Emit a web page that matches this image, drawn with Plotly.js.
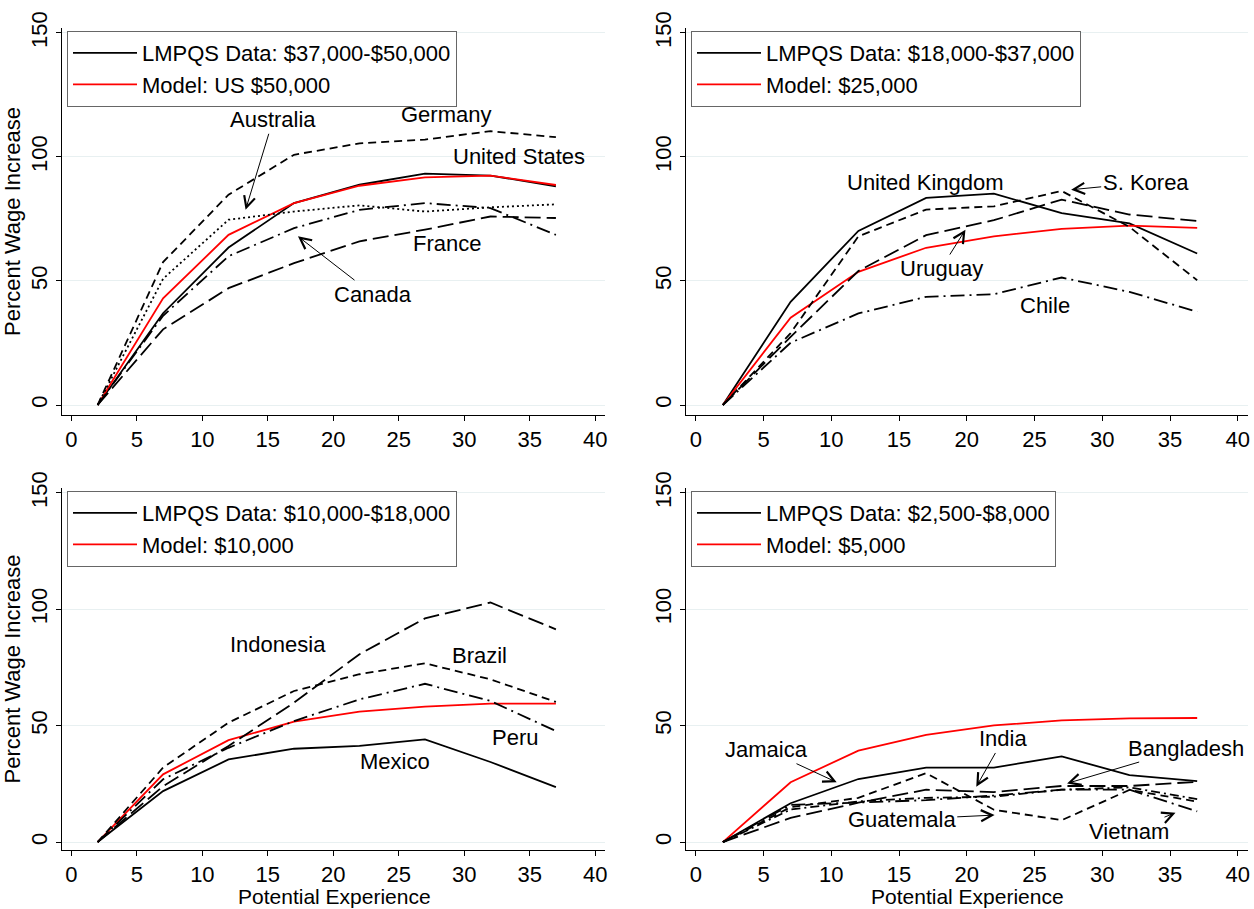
<!DOCTYPE html>
<html>
<head>
<meta charset="utf-8">
<script src="https://cdn.plot.ly/plotly-3.0.1.min.js"></script>
<style>html,body{margin:0;padding:0;background:#fff;} #chart{width:1254px;height:909px;}</style>
</head>
<body>
<div id="chart"></div>
<script>
// ---------- data ----------
const exper = [2, 7, 12, 17, 22, 27, 32, 37];
const xTicks = [0, 5, 10, 15, 20, 25, 30, 35, 40];
const yTicks = [0, 50, 100, 150];

// Panel 1: $37,000-$50,000
const unitedStates = [0, 37, 63.5, 81.4, 88.8, 93.3, 92.5, 88.2];
const model50k     = [0, 43, 68.6, 81.4, 88.4, 91.8, 92.5, 88.7];
const germany      = [0, 57.6, 84.8, 100.9, 105.5, 107, 110.4, 108];
const australia    = [0, 50.9, 74.7, 78, 80.5, 78, 79.7, 80.9];
const canada       = [0, 36, 60, 71.3, 78.7, 81.4, 79.4, 68.6];
const france       = [0, 30.5, 47.1, 57.2, 66, 70.7, 76, 75.4];

// Panel 2: $18,000-$37,000
const unitedKingdom = [0, 41.6, 70.2, 83.5, 85.2, 77.4, 73.2, 61.1];
const model25k      = [0, 35.2, 53.7, 63.4, 68, 71, 72.3, 71.4];
const southKorea    = [0, 29, 68, 78.8, 80.1, 86.3, 71.8, 50.3];
const uruguay       = [0, 27.5, 54, 68.5, 74.5, 82.8, 76.8, 74.2];
const chile         = [0, 25.1, 36.9, 43.6, 44.7, 51.4, 45.6, 37.6];

// Panel 3: $10,000-$18,000
const mexico    = [0, 21.9, 35.5, 40.1, 41.3, 44.1, 34.4, 23.6];
const model10k  = [0, 29.1, 43.8, 51.7, 56, 58.2, 59.5, 59.5];
const indonesia = [0, 24, 41.3, 59.9, 80.7, 96.1, 102.9, 91.4];
const brazil    = [0, 32, 51.3, 64.9, 72.1, 76.8, 69.9, 60.2];
const peru      = [0, 27, 40.5, 52, 61.3, 68, 60.6, 47.7];

// Panel 4: $2,500-$8,000
const jamaica    = [0, 16.7, 27.1, 32, 32, 36.8, 28.8, 26.2];
const model5k    = [0, 25.7, 39.3, 46.1, 50.1, 52.3, 53.1, 53.3];
const guatemala  = [0, 15, 19, 29.6, 13.9, 9.4, 22.4, 17.4];
const india      = [0, 10.4, 16.9, 22.5, 21.5, 24.1, 24.1, 25.9];
const bangladesh = [0, 14, 17.5, 19, 19.5, 22.5, 23.5, 18.5];
const vietnam    = [0, 16, 17, 18, 20, 22.5, 22.5, 13.2];

const legendData  = ["LMPQS Data: $37,000-$50,000", "LMPQS Data: $18,000-$37,000", "LMPQS Data: $10,000-$18,000", "LMPQS Data: $2,500-$8,000"];
const legendModel = ["Model: US $50,000", "Model: $25,000", "Model: $10,000", "Model: $5,000"];
const xTitle = "Potential Experience";
const yTitle = "Percent Wage Increase";

// ---------- styles ----------
const FONT = "Liberation Sans, Arial, Helvetica, sans-serif";
const FS = 22;
const LW = 1.8;
const SOLID = "solid", DASH = "8px,5px", DOT = "2px,3px", LONG = "16px,6px",
      LDOT = "14px,5px,2px,5px", DDOT = "9px,4px,2px,4px";

function ln(y, ax, ay, dash, color, name, legendId, show) {
  return {x: exper, y: y, xaxis: ax, yaxis: ay, type: "scatter", mode: "lines",
          line: {color: color || "#000", width: LW, dash: dash},
          name: name || "", showlegend: !!show, legend: legendId, hoverinfo: "skip"};
}

const traces = [
  ln(unitedStates, "x", "y", SOLID, "#000", legendData[0], "legend", true),
  ln(model50k, "x", "y", SOLID, "#ff0000", legendModel[0], "legend", true),
  ln(germany, "x", "y", DASH), ln(australia, "x", "y", DOT),
  ln(canada, "x", "y", LDOT), ln(france, "x", "y", LONG),

  ln(unitedKingdom, "x2", "y2", SOLID, "#000", legendData[1], "legend2", true),
  ln(model25k, "x2", "y2", SOLID, "#ff0000", legendModel[1], "legend2", true),
  ln(southKorea, "x2", "y2", DASH), ln(uruguay, "x2", "y2", LONG),
  ln(chile, "x2", "y2", LDOT),

  ln(mexico, "x3", "y3", SOLID, "#000", legendData[2], "legend3", true),
  ln(model10k, "x3", "y3", SOLID, "#ff0000", legendModel[2], "legend3", true),
  ln(indonesia, "x3", "y3", LONG), ln(brazil, "x3", "y3", DASH),
  ln(peru, "x3", "y3", LDOT),

  ln(jamaica, "x4", "y4", SOLID, "#000", legendData[3], "legend4", true),
  ln(model5k, "x4", "y4", SOLID, "#ff0000", legendModel[3], "legend4", true),
  ln(guatemala, "x4", "y4", DASH), ln(india, "x4", "y4", LONG),
  ln(bangladesh, "x4", "y4", DDOT), ln(vietnam, "x4", "y4", LDOT)
];

// ---------- layout ----------
const W = 1254, H = 909;
const px = v => v / W, py = v => 1 - v / H;

function xax(d0, d1, anchor) {
  return {domain: [px(d0), px(d1)], anchor: anchor, range: [-0.72, 40.75],
    tickmode: "array", tickvals: xTicks, ticks: "outside", ticklen: 5, tickwidth: 1,
    tickcolor: "#000", showline: true, linecolor: "#000", linewidth: 1,
    showgrid: false, zeroline: false, tickfont: {family: FONT, size: FS, color: "#000"}};
}
function yax(top, bottom, rng, anchor, title) {
  const a = {domain: [py(bottom), py(top)], anchor: anchor, range: rng,
    tickmode: "array", tickvals: yTicks, ticks: "outside", ticklen: 5, tickwidth: 1,
    tickcolor: "#000", showline: true, linecolor: "#000", linewidth: 1,
    showgrid: true, gridcolor: "#e8f0f1", gridwidth: 1, zeroline: false, tickangle: -90,
    tickfont: {family: FONT, size: FS, color: "#000"}};
  if (title) a.title = {text: title, font: {family: FONT, size: FS, color: "#000"}, standoff: 4};
  return a;
}
function leg(x, y) {
  return {x: px(x), y: py(y), xanchor: "left", yanchor: "top", bgcolor: "#fff",
    bordercolor: "#666", borderwidth: 1, font: {family: FONT, size: FS, color: "#000"},
    itemwidth: 64, traceorder: "normal", itemclick: false, itemdoubleclick: false};
}

function note(xr, yr, text, tx, ty, ptX, ptY) {
  const a = {xref: xr, yref: yr, text: text, font: {family: FONT, size: FS, color: "#000"}};
  if (ptX === undefined) {
    a.x = tx; a.y = ty; a.showarrow = false;
  } else {
    a.x = ptX; a.y = ptY; a.ax = tx; a.ay = ty; a.axref = xr; a.ayref = yr;
    a.showarrow = true; a.arrowhead = 5; a.arrowsize = 2.2; a.arrowwidth = 1;
    a.arrowcolor = "#000"; a.standoff = 0;
  }
  return a;
}
function xTitleNote(cx) {
  return {xref: "paper", yref: "paper", x: px(cx), y: 0, xanchor: "center", yanchor: "bottom",
    text: xTitle, showarrow: false, borderpad: 0, font: {family: FONT, size: 21, color: "#000"}};
}

const topRange = [-4.03, 152], botRange = [-3.4, 152.1];

const layout = {
  width: W, height: H, margin: {l: 0, r: 0, t: 0, b: 0},
  paper_bgcolor: "#fff", plot_bgcolor: "#fff",
  font: {family: FONT, size: FS, color: "#000"},
  xaxis:  xax(62, 605, "y"),
  yaxis:  yax(28, 415, topRange, "x", yTitle),
  xaxis2: xax(686, 1248, "y2"),
  yaxis2: yax(28, 415, topRange, "x2"),
  xaxis3: xax(62, 605, "y3"),
  yaxis3: yax(488, 850, botRange, "x3", yTitle),
  xaxis4: xax(686, 1248, "y4"),
  yaxis4: yax(488, 850, botRange, "x4"),
  legend:  leg(67, 31),
  legend2: leg(691, 31),
  legend3: leg(67, 491),
  legend4: leg(691, 491),
  annotations: [
    xTitleNote(334), xTitleNote(967),

    note("x", "y", "Australia", 15.4, 115, 13.3, 78.7),
    note("x", "y", "Germany", 28.6, 117),
    note("x", "y", "United States", 34.2, 100.3),
    note("x", "y", "France", 28.7, 65),
    note("x", "y", "Canada", 23, 44.7, 17.3, 68),

    note("x2", "y2", "United Kingdom", 16.96, 89.7),
    note("x2", "y2", "S. Korea", 33.2, 89.7, 27.7, 86.8),
    note("x2", "y2", "Uruguay", 18.1, 55, 19.9, 70.7),
    note("x2", "y2", "Chile", 25.8, 40),

    note("x3", "y3", "Indonesia", 15.8, 85),
    note("x3", "y3", "Brazil", 31.2, 80),
    note("x3", "y3", "Peru", 33.9, 45),
    note("x3", "y3", "Mexico", 24.7, 34.8),

    note("x4", "y4", "Jamaica", 5.2, 39.7, 10.4, 25.7),
    note("x4", "y4", "India", 22.7, 44.3, 20.7, 23.8),
    note("x4", "y4", "Bangladesh", 36.2, 40.4, 27.4, 25.2),
    note("x4", "y4", "Guatemala", 15.2, 9.7, 22.05, 11.6),
    note("x4", "y4", "Vietnam", 32, 4.7, 35.4, 12.6)
  ]
};

Plotly.newPlot("chart", traces, layout, {staticPlot: true, displayModeBar: false});
</script>
</body>
</html>
